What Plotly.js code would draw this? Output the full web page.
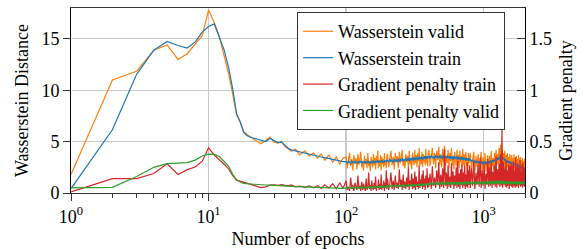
<!DOCTYPE html>
<html>
<head>
<meta charset="utf-8">
<script src="https://cdn.plot.ly/plotly-3.0.1.min.js"></script>
<style>html,body{margin:0;padding:0;background:#fff;}#chart{width:584px;height:250px;}</style>
</head>
<body>
<div id="chart"></div>
<script>
// Epochs (shared x values)
var epochs = [1,2,3,4,5,6,7,8,9,10,11,12,13,14,15,16,17,18,19,20,
22,24,26,28,30,32,34,36,38,40,43,46,50,54,58,62,66,70,75,80,85,90,95,
100,102,104,106,108,110,112,114,116,118,
120,122,124,126,128,130,132,134,136,138,
140,142,144,146,148,150,152,154,156,158,
160,162,164,166,168,170,172,174,176,178,
180,182,184,186,188,190,192,194,196,198,
200,204,208,212,216,220,224,228,232,236,
240,244,248,252,256,260,264,268,272,276,
280,284,288,292,296,300,304,308,312,316,
320,324,328,332,336,340,344,348,352,356,
360,364,368,372,376,380,384,388,392,396,
400,408,416,424,432,440,448,456,464,472,
480,488,496,504,512,520,528,536,544,552,
560,568,576,584,592,600,608,616,624,632,
640,648,656,664,672,680,688,696,704,712,
720,728,736,744,752,760,768,776,784,792,
800,816,832,848,864,880,896,912,928,944,
960,976,992,1008,1024,1040,1056,1072,1088,1104,
1120,1136,1152,1168,1184,1200,1216,1232,1248,1264,
1280,1296,1312,1328,1344,1360,1376,1392,1408,1424,
1440,1456,1472,1488,1504,1520,1536,1552,1568,1584,
1600,1616,1632,1648,1664,1680,1696,1712,1728,1744,
1760,1776,1792,1808,1824,1840,1856,1872,1888,1904,
1920,1936,1952,1968,1984,2000];

// Wasserstein distance, validation (left axis)
var wassValid = [1.8,11.0,11.85,13.9,14.4,13.0,13.55,14.5,15.3,17.8,16.6,15.2,13.4,11.6,9.6,7.6,6.9,6.0,5.7,5.5,
5.2,4.8,5.1,5.45,4.95,4.85,5.0,4.5,4.3,4.05,4.25,3.7,4.1,3.6,3.9,3.4,3.8,3.2,3.7,3.0,3.5,2.8,3.4,
3.5,2.4,3.1,3.9,2.6,3.3,2.2,3.7,2.9,3.4,
2.3,3.8,2.7,3.2,4.0,2.5,3.0,2.2,3.6,2.8,
3.3,2.4,3.9,2.6,3.1,2.1,3.5,3.0,2.5,3.8,
2.7,3.4,2.3,3.6,2.9,4.1,2.4,3.2,2.6,3.7,
2.2,3.5,2.8,3.3,2.5,3.9,2.7,3.1,2.4,3.6,
3.8,2.5,3.3,4.1,2.7,3.5,2.3,3.9,3.0,3.6,
2.4,4.0,2.9,3.4,4.2,2.6,3.2,2.4,3.8,3.0,
3.6,2.5,4.1,2.8,3.3,2.3,3.9,3.2,2.7,4.2,
2.9,3.7,2.5,3.9,3.1,4.4,2.6,3.5,2.8,4.0,
2.5,3.8,3.0,3.6,2.7,4.3,2.9,3.4,2.6,4.0,
4.2,2.6,3.7,4.4,2.8,3.9,2.4,4.1,3.2,4.5,
2.7,3.8,2.5,4.3,3.0,4.6,2.6,3.6,2.9,4.2,
2.4,3.9,3.1,4.4,2.7,3.5,2.3,4.0,3.3,2.6,
4.2,2.8,3.7,2.4,4.1,3.0,3.6,2.5,4.3,2.7,
3.8,2.3,3.5,4.0,2.6,3.4,2.2,3.9,2.9,3.6,
3.9,2.3,3.4,4.0,2.1,3.6,2.5,3.8,2.2,3.3,
4.0,2.0,3.5,2.4,3.9,2.1,3.2,3.7,2.0,3.6,
2.3,4.1,2.6,3.4,2.2,3.9,2.5,4.2,2.7,3.8,
2.8,4.4,3.0,4.7,2.9,4.2,2.6,3.9,2.4,4.1,
2.3,3.7,2.1,3.9,2.5,3.5,2.0,3.8,2.2,3.6,
3.7,2.1,3.4,2.0,3.8,2.3,3.5,1.9,3.6,2.2,
3.3,1.8,3.7,2.1,3.4,1.9,3.5,2.0,3.2,1.7,
3.4,2.0,3.1,1.8,3.3,2.1];

// Wasserstein distance, training (left axis)
var wassTrain = [0.43,6.15,11.55,13.9,14.75,14.35,14.1,14.7,15.65,16.2,16.45,15.2,13.9,12.2,10.1,7.7,6.9,5.9,5.6,5.45,
5.3,5.1,5.0,5.3,5.05,4.9,4.95,4.6,4.35,4.2,4.1,3.95,3.9,3.8,3.7,3.6,3.5,3.45,3.35,3.25,3.2,3.1,3.05,
3.05,2.9,3.1,3.0,2.85,3.15,2.95,3.05,2.9,3.1,
3.0,2.85,3.1,2.95,3.15,2.9,3.05,2.95,3.1,2.9,
3.05,2.9,3.15,2.95,3.0,2.85,3.1,3.0,2.9,3.15,
2.95,3.1,2.9,3.15,3.0,3.2,2.95,3.1,3.0,3.15,
2.95,3.2,3.0,3.1,2.95,3.2,3.05,3.15,3.0,3.2,
3.2,3.0,3.3,3.05,3.25,2.95,3.3,3.1,3.2,3.0,
3.35,3.05,3.3,3.1,3.4,3.05,3.3,3.15,3.4,3.1,
3.35,3.15,3.45,3.1,3.4,3.2,3.45,3.15,3.5,3.2,
3.4,3.25,3.5,3.2,3.45,3.55,3.25,3.5,3.3,3.55,
3.25,3.5,3.3,3.6,3.35,3.55,3.3,3.6,3.35,3.55,
3.6,3.35,3.65,3.4,3.55,3.3,3.7,3.45,3.6,3.35,
3.65,3.4,3.6,3.3,3.7,3.4,3.55,3.35,3.65,3.4,
3.55,3.3,3.6,3.35,3.55,3.25,3.6,3.35,3.5,3.3,
3.55,3.25,3.5,3.3,3.5,3.2,3.45,3.25,3.5,3.2,
3.45,3.2,3.4,3.15,3.45,3.2,3.35,3.1,3.4,3.15,
3.3,3.05,3.25,2.95,3.2,2.9,3.15,2.9,3.1,2.85,
3.1,2.8,3.05,2.85,3.1,2.8,3.0,2.85,3.1,2.9,
3.15,2.9,3.2,3.0,3.25,3.05,3.3,3.1,3.4,3.2,
3.45,3.25,3.55,3.35,3.6,3.4,3.5,3.3,3.4,3.15,
3.3,3.05,3.2,2.95,3.15,2.9,3.1,2.85,3.05,2.85,
3.0,2.8,2.95,2.75,2.9,2.7,2.85,2.65,2.8,2.6,
2.75,2.55,2.7,2.5,2.65,2.45,2.6,2.4,2.55,2.35,
2.45,2.3,2.4,2.25,2.3,2.15];

// Gradient penalty, training (right axis)
var gpTrain = [0.01,0.14,0.14,0.19,0.285,0.18,0.227,0.253,0.31,0.44,0.37,0.325,0.28,0.235,0.17,0.125,0.115,0.1,0.095,0.09,
0.07,0.052,0.06,0.077,0.08,0.074,0.082,0.075,0.07,0.078,0.06,0.068,0.055,0.07,0.05,0.072,0.045,0.08,0.05,0.09,0.04,0.1,0.045,
0.12,0.03,0.06,0.02,0.15,0.04,0.08,0.02,0.1,0.05,
0.03,0.17,0.04,0.07,0.02,0.11,0.03,0.09,0.05,0.02,
0.14,0.03,0.06,0.2,0.04,0.08,0.02,0.12,0.05,0.03,
0.1,0.04,0.16,0.02,0.07,0.05,0.13,0.03,0.09,0.04,
0.18,0.03,0.08,0.05,0.12,0.02,0.1,0.06,0.22,0.04,
0.14,0.03,0.09,0.2,0.04,0.12,0.03,0.17,0.05,0.1,
0.04,0.23,0.06,0.13,0.03,0.18,0.05,0.11,0.04,0.15,
0.06,0.25,0.03,0.12,0.07,0.19,0.04,0.14,0.05,0.21,
0.03,0.16,0.06,0.11,0.04,0.27,0.05,0.13,0.07,0.18,
0.04,0.22,0.06,0.14,0.03,0.17,0.08,0.24,0.05,0.15,
0.06,0.19,0.04,0.26,0.07,0.15,0.05,0.22,0.08,0.3,
0.04,0.18,0.06,0.24,0.05,0.43,0.07,0.2,0.04,0.27,
0.06,0.16,0.05,0.29,0.08,0.21,0.04,0.17,0.07,0.25,
0.05,0.31,0.06,0.19,0.04,0.23,0.08,0.28,0.05,0.2,
0.07,0.26,0.04,0.18,0.06,0.3,0.05,0.22,0.08,0.27,
0.05,0.24,0.07,0.31,0.04,0.2,0.08,0.28,0.06,0.34,
0.05,0.22,0.07,0.29,0.04,0.19,0.08,0.33,0.06,0.25,
0.07,0.3,0.05,0.21,0.08,0.27,0.06,0.36,0.05,0.23,
0.08,0.29,0.06,0.38,0.07,0.63,0.05,0.3,0.08,0.24,
0.06,0.32,0.05,0.22,0.07,0.28,0.04,0.26,0.07,0.3,
0.06,0.27,0.05,0.31,0.07,0.22,0.05,0.34,0.06,0.25,
0.07,0.29,0.05,0.24,0.08,0.32,0.06,0.21,0.07,0.28,
0.05,0.3,0.07,0.25,0.06,0.2];

// Gradient penalty, validation (right axis)
var gpValid = [0.049,0.055,0.16,0.25,0.285,0.29,0.295,0.32,0.36,0.378,0.376,0.355,0.31,0.26,0.18,0.13,0.107,0.093,0.09,0.087,
0.083,0.08,0.078,0.077,0.076,0.075,0.073,0.07,0.068,0.065,0.062,0.06,0.058,0.056,0.055,0.054,0.052,0.05,0.05,0.048,0.047,0.046,0.045,
0.05,0.042,0.056,0.047,0.053,0.044,0.058,0.048,0.054,0.046,
0.057,0.049,0.055,0.045,0.06,0.05,0.056,0.047,0.061,0.051,
0.058,0.049,0.062,0.052,0.059,0.05,0.064,0.053,0.06,0.051,
0.065,0.054,0.061,0.052,0.066,0.055,0.063,0.053,0.067,0.056,
0.064,0.055,0.068,0.057,0.065,0.056,0.07,0.058,0.066,0.057,
0.072,0.06,0.075,0.063,0.07,0.061,0.077,0.064,0.073,0.062,
0.078,0.065,0.074,0.063,0.08,0.066,0.076,0.064,0.082,0.068,
0.077,0.066,0.083,0.069,0.079,0.067,0.085,0.07,0.08,0.068,
0.086,0.071,0.082,0.07,0.088,0.073,0.084,0.071,0.09,0.074,
0.086,0.073,0.091,0.075,0.087,0.074,0.093,0.076,0.089,0.075,
0.097,0.079,0.103,0.082,0.099,0.08,0.106,0.083,0.1,0.081,
0.108,0.084,0.102,0.08,0.107,0.085,0.101,0.082,0.109,0.084,
0.103,0.081,0.11,0.085,0.104,0.082,0.108,0.084,0.102,0.08,
0.107,0.083,0.111,0.086,0.104,0.082,0.109,0.085,0.103,0.081,
0.108,0.084,0.112,0.086,0.105,0.083,0.11,0.085,0.104,0.082,
0.109,0.085,0.113,0.087,0.107,0.083,0.115,0.088,0.11,0.084,
0.114,0.086,0.108,0.083,0.116,0.088,0.111,0.085,0.117,0.087,
0.112,0.086,0.118,0.089,0.113,0.087,0.12,0.09,0.115,0.088,
0.122,0.091,0.117,0.089,0.124,0.092,0.118,0.09,0.115,0.087,
0.112,0.085,0.116,0.088,0.11,0.084,0.114,0.087,0.109,0.085,
0.112,0.086,0.109,0.084,0.114,0.087,0.11,0.085,0.113,0.086,
0.108,0.083,0.112,0.086,0.109,0.084,0.113,0.087,0.11,0.085,
0.107,0.084,0.111,0.086,0.105,0.09];

var seriesNames = ['Wasserstein valid','Wasserstein train','Gradient penalty train','Gradient penalty valid'];
var xTickVals = [1,10,100,1000];
var xTickText = ['10<sup>0</sup>','10<sup>1</sup>','10<sup>2</sup>','10<sup>3</sup>'];
var xMinorVals = [2,3,4,5,6,7,8,9,20,30,40,50,60,70,80,90,200,300,400,500,600,700,800,900,2000];
var yTickVals = [0,5,10,15];
var y2TickVals = [0,0.5,1,1.5];
var y2TickText = ['0','0.5','1','1.5'];

var FONT = 'Liberation Serif, Times New Roman, serif';
var lw = 1.2;
var traces = [
  {x:epochs, y:wassValid, name:seriesNames[0], type:'scatter', mode:'lines', line:{color:'#ff7f0e', width:lw}, yaxis:'y'},
  {x:epochs, y:wassTrain, name:seriesNames[1], type:'scatter', mode:'lines', line:{color:'#1f77b4', width:lw}, yaxis:'y'},
  {x:epochs, y:gpTrain, name:seriesNames[2], type:'scatter', mode:'lines', line:{color:'#d62728', width:lw}, yaxis:'y2'},
  {x:epochs, y:gpValid, name:seriesNames[3], type:'scatter', mode:'lines', line:{color:'#2ca02c', width:lw}, yaxis:'y2'}
];

var layout = {
  width:584, height:250,
  margin:{l:71, r:59, t:8, b:57},
  paper_bgcolor:'#fff', plot_bgcolor:'#fff',
  font:{family:FONT, size:18, color:'#000'},
  showlegend:true,
  hovermode:false,
  legend:{x:0.498, y:0.978, xanchor:'left', yanchor:'top', bgcolor:'#fff',
          bordercolor:'#333', borderwidth:1, font:{family:FONT, size:18, color:'#000'},
          tracegroupgap:0},
  xaxis:{type:'log', range:[0, Math.log10(2000)], tickmode:'array', tickvals:xTickVals, ticktext:xTickText,
         ticks:'outside', ticklen:7, tickwidth:1, tickcolor:'#333',
         showline:true, linecolor:'#333', linewidth:1, mirror:true,
         showgrid:true, gridcolor:'#c8c8c8', gridwidth:1.2, zeroline:false,
         minor:{tickmode:'array', tickvals:xMinorVals, ticks:'outside', ticklen:4, tickwidth:1, tickcolor:'#333', showgrid:false},
         tickfont:{family:FONT, size:18, color:'#000'},
         title:{text:'Number of epochs', font:{family:FONT, size:18, color:'#000'}, standoff:6}},
  yaxis:{range:[0,18], tickmode:'array', tickvals:yTickVals, ticks:'outside', ticklen:7, tickwidth:1, tickcolor:'#333',
         showline:true, linecolor:'#000', linewidth:1, mirror:false,
         showgrid:true, gridcolor:'#c8c8c8', gridwidth:1.2, zeroline:false,
         tickfont:{family:FONT, size:18, color:'#000'},
         title:{text:'Wasserstein Distance', font:{family:FONT, size:18, color:'#000'}, standoff:8}},
  yaxis2:{overlaying:'y', side:'right', range:[0,1.8], tickmode:'array', tickvals:y2TickVals, ticktext:y2TickText,
          ticks:'inside', ticklen:8, tickwidth:1, tickcolor:'#333',
          showline:true, linecolor:'#000', linewidth:1, showgrid:false, zeroline:false,
          tickfont:{family:FONT, size:18, color:'#000'},
          title:{text:'Gradient penalty', font:{family:FONT, size:18, color:'#000'}, standoff:8}}
};

Plotly.newPlot('chart', traces, layout, {displayModeBar:false, staticPlot:true});
</script>
</body>
</html>
